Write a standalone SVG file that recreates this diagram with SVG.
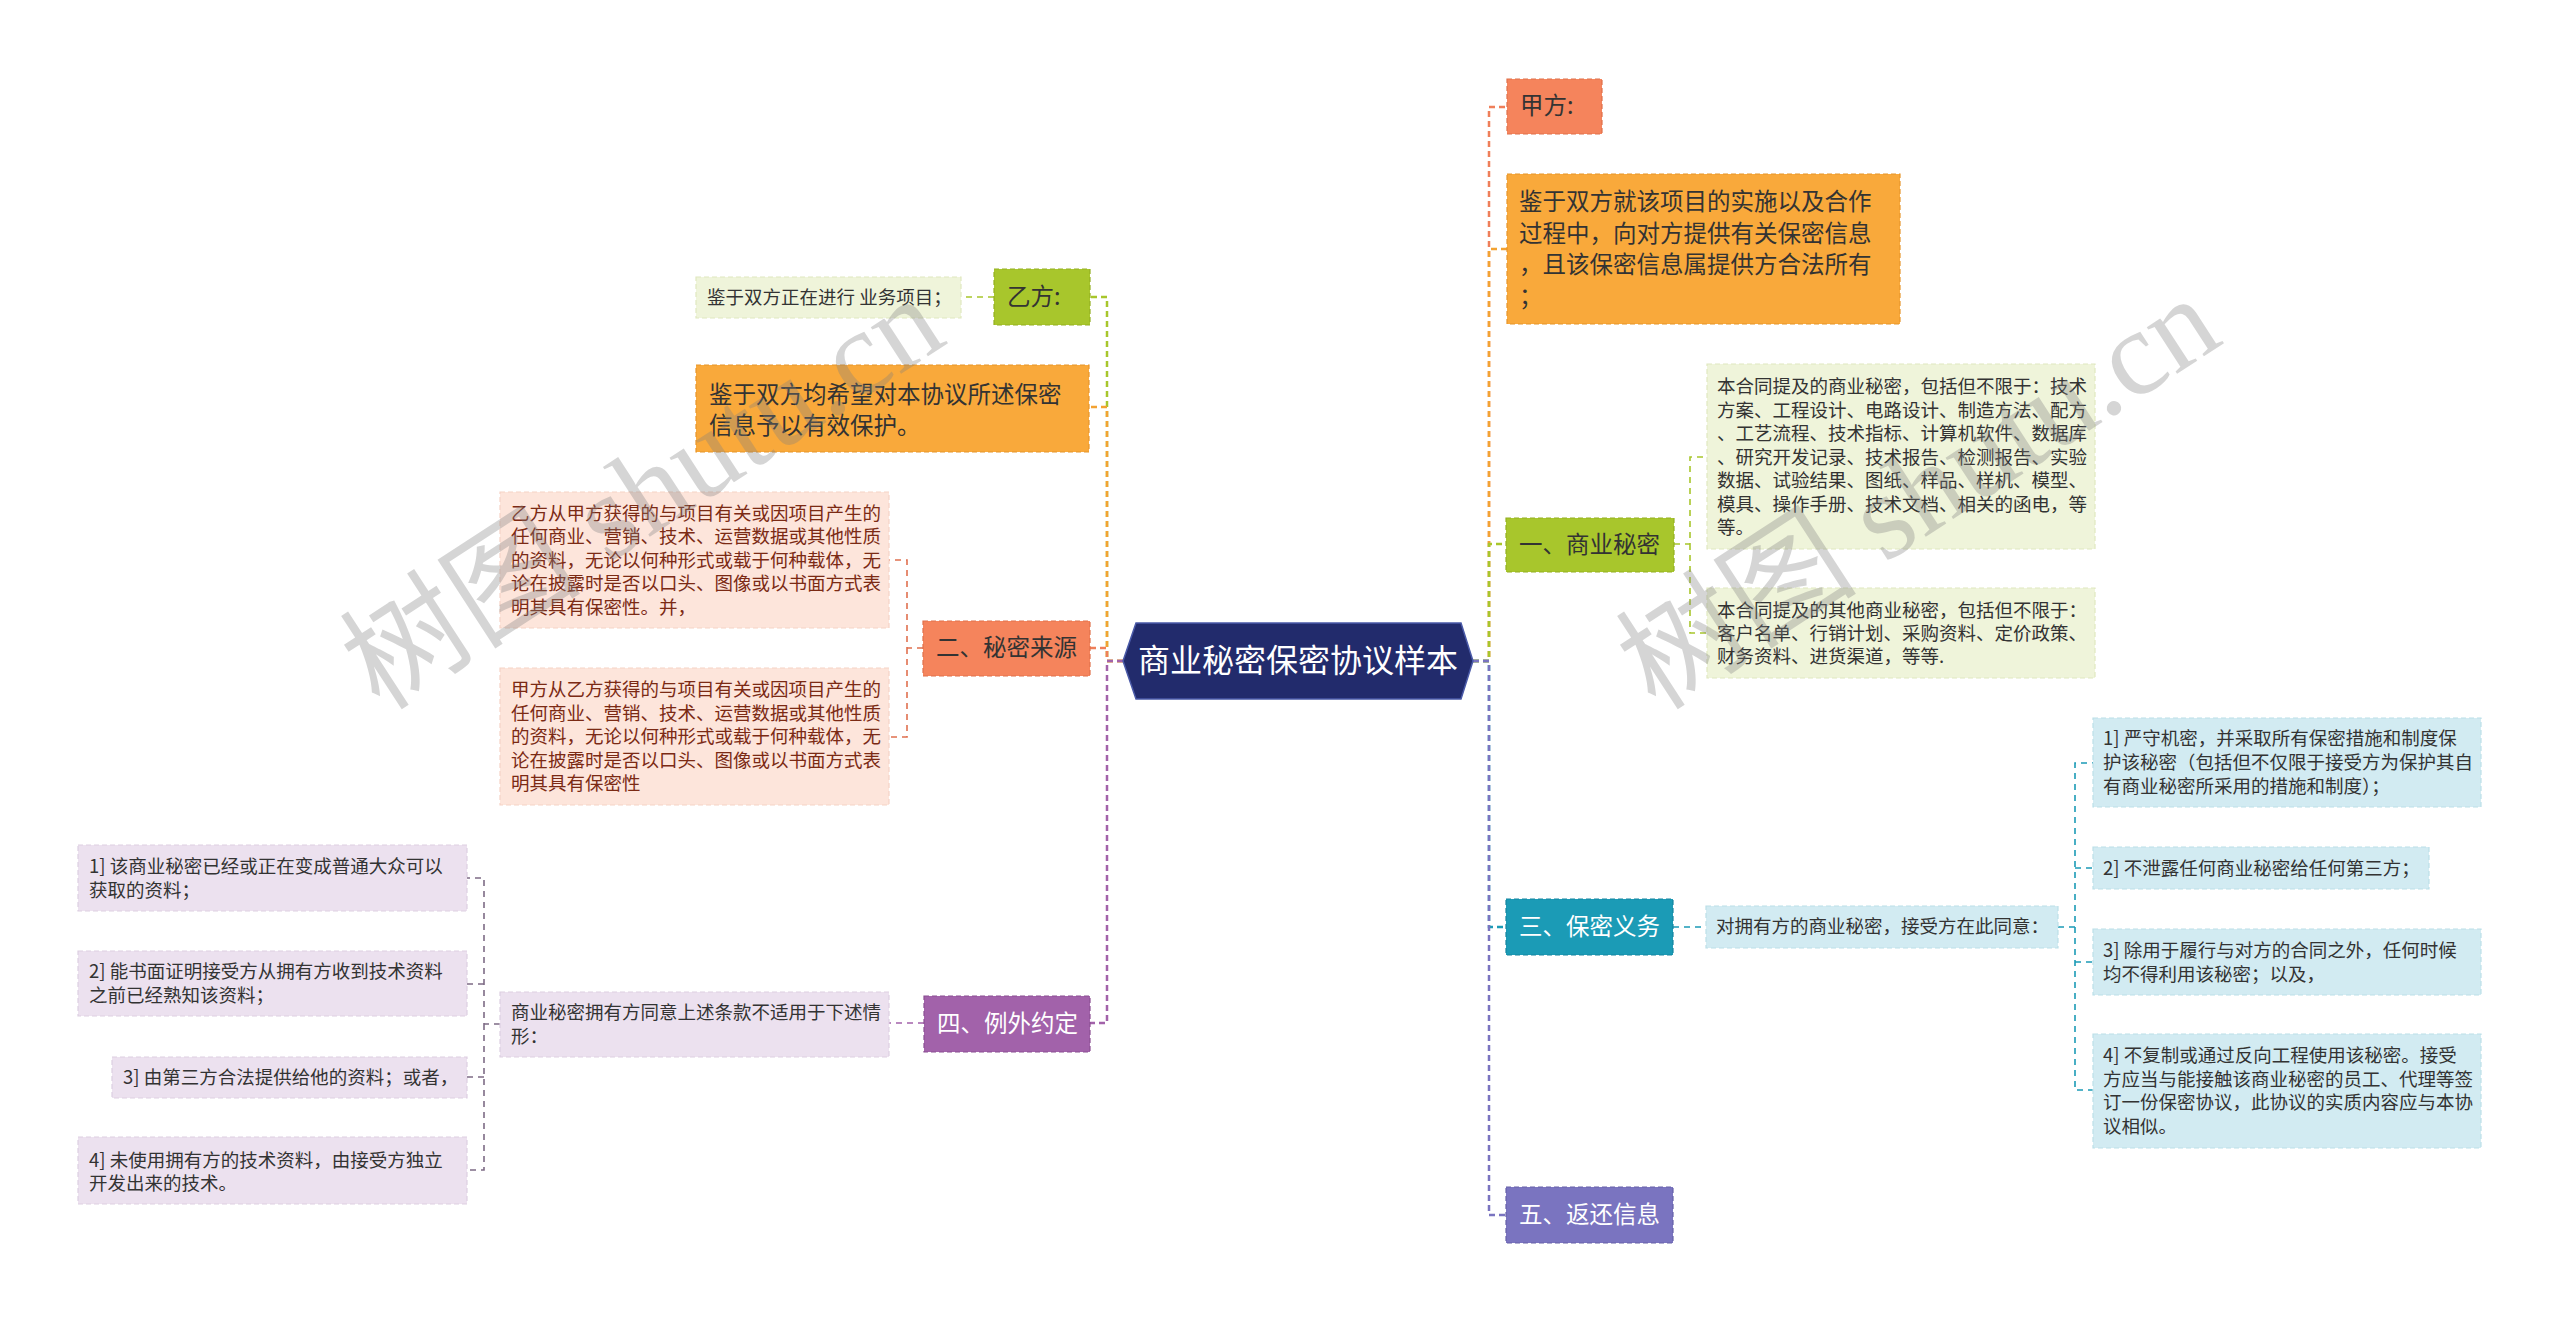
<svg xmlns="http://www.w3.org/2000/svg" width="2560" height="1322" viewBox="0 0 2560 1322">
<style>
text{font-family:"Noto Sans CJK SC","Noto Sans",sans-serif;}
.t24{font-size:23.5px;fill:#333;}
.w24{font-size:23.5px;fill:#fff;}
.t18{font-size:18.5px;fill:#333;}
.r18{font-size:18.5px;fill:#7b2a14;}
.box{stroke-width:1.2;stroke-dasharray:5 3;}
.c{fill:none;stroke-width:2.5;stroke-dasharray:6 4;}
.s{fill:none;stroke-width:1.6;stroke-dasharray:6 5;}
.wm{font-family:"Liberation Serif","Noto Sans CJK SC",serif;font-size:121px;fill:#7f7f7f;fill-opacity:0.33;}
</style>
<rect width="2560" height="1322" fill="#ffffff"/>
<g id="connectors">
<path class="c" stroke="#ef7f5a" d="M1473 661 H1489 V107 H1507"/>
<path class="c" stroke="#f3a233" d="M1473 661 H1489 V249 H1507"/>
<path class="c" stroke="#a8c62c" d="M1473 661 H1489 V544 H1506"/>
<path class="c" stroke="#1b9bb6" d="M1473 661 H1489 V927 H1506"/>
<path class="c" stroke="#7a74c0" d="M1473 661 H1489 V1215 H1506"/>
<path class="c" stroke="#a8c62c" d="M1123 661 H1107 V297 H1090"/>
<path class="c" stroke="#f3a233" d="M1123 661 H1107 V407 H1089"/>
<path class="c" stroke="#ef7f5a" d="M1123 661 H1107 V648 H1090"/>
<path class="c" stroke="#a262aa" d="M1123 661 H1107 V1023 H1090"/>
<path class="s" stroke="#a8c62c" d="M1674 544 H1690 V457 H1707 M1690 544 V633 H1707"/>
<path class="s" stroke="#1b9bb6" d="M1673 927 H1706"/>
<path class="s" stroke="#1b9bb6" d="M2058 927 H2075 V763 H2093 M2075 868 H2093 M2075 927 V1090 H2093 M2075 962 H2093"/>
<path class="s" stroke="#a8c62c" d="M994 297 H961"/>
<path class="s" stroke="#e0704f" d="M923 648 H907 V560 H889 M907 648 V737 H889"/>
<path class="s" stroke="#a262aa" d="M924 1023 H889"/>
<path class="s" stroke="#7d6b85" d="M500 1024 H484 V878 H467 M484 984 H467 M484 1024 V1170 H467 M484 1077 H467"/>
</g>
<g id="center">
<polygon points="1123,661 1136,623 1461,623 1473,661 1461,699 1136,699" fill="#222b6c" stroke="#4a5aa8" stroke-width="1.5"/>
<text x="1298" y="672" text-anchor="middle" style="font-size:32px;fill:#fff;">商业秘密保密协议样本</text>
</g>
<g id="jiafang">
<rect class="box" x="1507" y="79" width="95" height="55" fill="#f5845c" stroke="#e0704a"/>
<text class="t24" x="1520" y="114">甲方:</text>
</g>
<g id="jianyu-right">
<rect class="box" x="1507" y="174" width="393" height="150" fill="#f9a93b" stroke="#e6952a"/>
<text class="t24" x="1519"><tspan x="1519" y="210">鉴于双方就该项目的实施以及合作</tspan><tspan x="1519" y="242">过程中，向对方提供有关保密信息</tspan><tspan x="1519" y="273">，且该保密信息属提供方合法所有</tspan><tspan x="1519" y="305">；</tspan></text>
</g>
<g id="n1">
<rect class="box" x="1506" y="518" width="168" height="54" fill="#a8c62c" stroke="#93b021"/>
<text class="t24" x="1519" y="553">一、商业秘密</text>
</g>
<g id="n1a">
<rect class="box" x="1707" y="364" width="388" height="185" fill="#eff4da" stroke="#e0e8c0"/>
<text class="t18"><tspan x="1717" y="393">本合同提及的商业秘密，包括但不限于：技术</tspan><tspan x="1717" y="417">方案、工程设计、电路设计、制造方法、配方</tspan><tspan x="1717" y="440">、工艺流程、技术指标、计算机软件、数据库</tspan><tspan x="1717" y="464">、研究开发记录、技术报告、检测报告、实验</tspan><tspan x="1717" y="487">数据、试验结果、图纸、样品、样机、模型、</tspan><tspan x="1717" y="511">模具、操作手册、技术文档、相关的函电，等</tspan><tspan x="1717" y="534">等。</tspan></text>
</g>
<g id="n1b">
<rect class="box" x="1707" y="588" width="388" height="90" fill="#eff4da" stroke="#e0e8c0"/>
<text class="t18"><tspan x="1717" y="617">本合同提及的其他商业秘密，包括但不限于：</tspan><tspan x="1717" y="640">客户名单、行销计划、采购资料、定价政策、</tspan><tspan x="1717" y="663">财务资料、进货渠道，等等.</tspan></text>
</g>
<g id="n3">
<rect class="box" x="1506" y="899" width="167" height="56" fill="#1b9bb6" stroke="#1585a0"/>
<text class="w24" x="1519" y="935">三、保密义务</text>
</g>
<g id="n3a">
<rect class="box" x="1706" y="906" width="352" height="42" fill="#d2ebf2" stroke="#bcdfe8"/>
<text class="t18" x="1716" y="933">对拥有方的商业秘密，接受方在此同意：</text>
</g>
<g id="n3i1">
<rect class="box" x="2093" y="718" width="388" height="89" fill="#d2ebf2" stroke="#bcdfe8"/>
<text class="t18"><tspan x="2103" y="745">1] 严守机密，并采取所有保密措施和制度保</tspan><tspan x="2103" y="769">护该秘密（包括但不仅限于接受方为保护其自</tspan><tspan x="2103" y="793">有商业秘密所采用的措施和制度）；</tspan></text>
</g>
<g id="n3i2">
<rect class="box" x="2093" y="847" width="336" height="42" fill="#d2ebf2" stroke="#bcdfe8"/>
<text class="t18" x="2103" y="875">2] 不泄露任何商业秘密给任何第三方；</text>
</g>
<g id="n3i3">
<rect class="box" x="2093" y="929" width="388" height="66" fill="#d2ebf2" stroke="#bcdfe8"/>
<text class="t18"><tspan x="2103" y="957">3] 除用于履行与对方的合同之外，任何时候</tspan><tspan x="2103" y="981">均不得利用该秘密；以及，</tspan></text>
</g>
<g id="n3i4">
<rect class="box" x="2093" y="1034" width="388" height="114" fill="#d2ebf2" stroke="#bcdfe8"/>
<text class="t18"><tspan x="2103" y="1062">4] 不复制或通过反向工程使用该秘密。接受</tspan><tspan x="2103" y="1086">方应当与能接触该商业秘密的员工、代理等签</tspan><tspan x="2103" y="1109">订一份保密协议，此协议的实质内容应与本协</tspan><tspan x="2103" y="1133">议相似。</tspan></text>
</g>
<g id="n5">
<rect class="box" x="1506" y="1187" width="167" height="56" fill="#7a74c0" stroke="#6660a8"/>
<text class="w24" x="1519" y="1223">五、返还信息</text>
</g>
<g id="yifang">
<rect class="box" x="994" y="269" width="96" height="56" fill="#a8c62c" stroke="#93b021"/>
<text class="t24" x="1007" y="305">乙方:</text>
</g>
<g id="yifang-a">
<rect class="box" x="696" y="277" width="265" height="41" fill="#eff4da" stroke="#e0e8c0"/>
<text class="t18" x="707" y="304">鉴于双方正在进行 业务项目；</text>
</g>
<g id="jianyu-left">
<rect class="box" x="696" y="365" width="393" height="87" fill="#f9a93b" stroke="#e6952a"/>
<text class="t24"><tspan x="709" y="403">鉴于双方均希望对本协议所述保密</tspan><tspan x="709" y="434">信息予以有效保护。</tspan></text>
</g>
<g id="n2">
<rect class="box" x="923" y="621" width="167" height="55" fill="#f5845c" stroke="#e0704a"/>
<text class="t24" x="936" y="656">二、秘密来源</text>
</g>
<g id="n2a">
<rect class="box" x="500" y="492" width="389" height="136" fill="#fde5db" stroke="#f5d3c6"/>
<text class="r18"><tspan x="511" y="520">乙方从甲方获得的与项目有关或因项目产生的</tspan><tspan x="511" y="543">任何商业、营销、技术、运营数据或其他性质</tspan><tspan x="511" y="567">的资料，无论以何种形式或载于何种载体，无</tspan><tspan x="511" y="590">论在披露时是否以口头、图像或以书面方式表</tspan><tspan x="511" y="614">明其具有保密性。并，</tspan></text>
</g>
<g id="n2b">
<rect class="box" x="500" y="668" width="389" height="137" fill="#fde5db" stroke="#f5d3c6"/>
<text class="r18"><tspan x="511" y="696">甲方从乙方获得的与项目有关或因项目产生的</tspan><tspan x="511" y="720">任何商业、营销、技术、运营数据或其他性质</tspan><tspan x="511" y="743">的资料，无论以何种形式或载于何种载体，无</tspan><tspan x="511" y="767">论在披露时是否以口头、图像或以书面方式表</tspan><tspan x="511" y="790">明其具有保密性</tspan></text>
</g>
<g id="n4">
<rect class="box" x="924" y="996" width="166" height="56" fill="#a262aa" stroke="#8a4e92"/>
<text class="w24" x="937" y="1032">四、例外约定</text>
</g>
<g id="n4a">
<rect class="box" x="500" y="992" width="389" height="65" fill="#ece1ef" stroke="#ddcfe2"/>
<text class="t18"><tspan x="511" y="1019">商业秘密拥有方同意上述条款不适用于下述情</tspan><tspan x="511" y="1043">形：</tspan></text>
</g>
<g id="n4i1">
<rect class="box" x="78" y="845" width="389" height="66" fill="#ece1ef" stroke="#ddcfe2"/>
<text class="t18"><tspan x="89" y="873">1] 该商业秘密已经或正在变成普通大众可以</tspan><tspan x="89" y="897">获取的资料；</tspan></text>
</g>
<g id="n4i2">
<rect class="box" x="78" y="951" width="389" height="65" fill="#ece1ef" stroke="#ddcfe2"/>
<text class="t18"><tspan x="89" y="978">2] 能书面证明接受方从拥有方收到技术资料</tspan><tspan x="89" y="1002">之前已经熟知该资料；</tspan></text>
</g>
<g id="n4i3">
<rect class="box" x="112" y="1057" width="355" height="41" fill="#ece1ef" stroke="#ddcfe2"/>
<text class="t18" x="123" y="1084">3] 由第三方合法提供给他的资料；或者，</text>
</g>
<g id="n4i4">
<rect class="box" x="78" y="1137" width="389" height="67" fill="#ece1ef" stroke="#ddcfe2"/>
<text class="t18"><tspan x="89" y="1167">4] 未使用拥有方的技术资料，由接受方独立</tspan><tspan x="89" y="1190">开发出来的技术。</tspan></text>
</g>
<g id="watermark">
<text class="wm" transform="translate(380,712) rotate(-33)">树图 shutu.cn</text>
<text class="wm" transform="translate(1656,712) rotate(-33)">树图 shutu.cn</text>
</g>
</svg>
